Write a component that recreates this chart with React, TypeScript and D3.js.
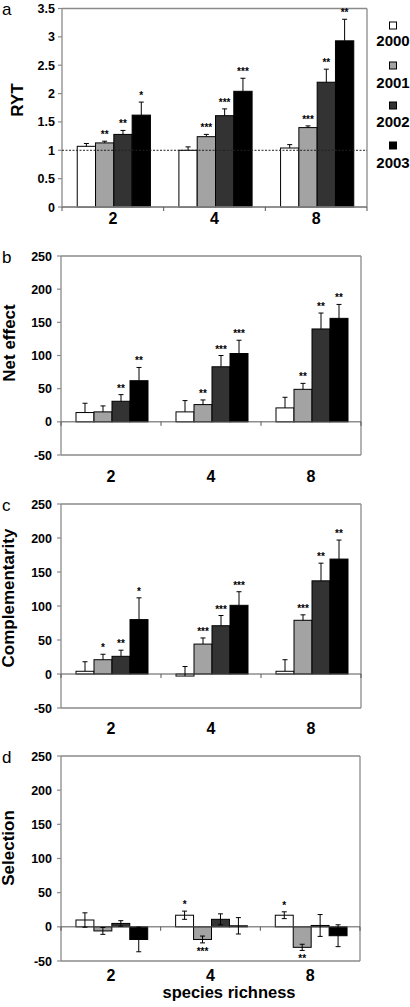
import React from "react";
import * as d3 from "d3";

const categories = ["2", "4", "8"];
const years = ["2000", "2001", "2002", "2003"];
const yearColors = ["#ffffff", "#a3a3a3", "#333333", "#000000"];

// Panel a: RYT
const rytValues = [
  [1.07, 1.13, 1.28, 1.62],
  [1.0, 1.24, 1.61, 2.04],
  [1.04, 1.4, 2.2, 2.93],
];
const rytErrors = [
  [0.05, 0.03, 0.07, 0.23],
  [0.06, 0.04, 0.12, 0.23],
  [0.06, 0.03, 0.23, 0.38],
];
const rytStars = [
  ["", "**", "**", "*"],
  ["", "***", "***", "***"],
  ["", "***", "**", "**"],
];
const rytTicks = [0, 0.5, 1, 1.5, 2, 2.5, 3, 3.5];

// Panel b: Net effect
const netValues = [
  [14, 15, 31, 62],
  [15, 26, 83, 103],
  [21, 49, 140, 156],
];
const netErrors = [
  [14, 9, 10, 20],
  [17, 7, 17, 20],
  [16, 9, 24, 21],
];
const netStars = [
  ["", "", "**", "**"],
  ["", "**", "***", "***"],
  ["", "**", "**", "**"],
];

// Panel c: Complementarity
const compValues = [
  [4, 21, 26, 80],
  [-3, 44, 71, 101],
  [4, 79, 137, 169],
];
const compErrors = [
  [14, 8, 9, 32],
  [14, 9, 15, 20],
  [17, 8, 26, 28],
];
const compStars = [
  ["", "*", "**", "*"],
  ["", "***", "***", "***"],
  ["", "***", "**", "**"],
];

// Panel d: Selection
const selValues = [
  [10, -6, 5, -18.5],
  [17, -18.5, 11, 1.5],
  [17, -30, 2, -13],
];
const selErrors = [
  [10.5, 5, 4, 18],
  [6, 5, 8, 12],
  [5, 4.5, 16, 16],
];
const selStars = [
  ["", "", "", ""],
  ["*", "***", "", ""],
  ["*", "**", "", ""],
];
const effectTicks = [-50, 0, 50, 100, 150, 200, 250];

const FONT = "'Liberation Sans', Arial, Helvetica, sans-serif";
const FRAME = "#8a8a8a";

type PanelSpec = {
  letter: string;
  letterY: number;
  title: string;
  titleX: number;
  titleY: number;
  values: number[][];
  errors: number[][];
  stars: string[][];
  ticks: number[];
  domain: [number, number];
  left: number;
  right: number;
  top: number;
  bottom: number;
  labelGap: number;
  catLabelY: number;
  bothErrors: boolean;
  refLine?: number;
};

const panels: PanelSpec[] = [
  {
    letter: "a", letterY: 15, title: "RYT", titleX: 23, titleY: 100,
    values: rytValues, errors: rytErrors, stars: rytStars, ticks: rytTicks,
    domain: [0, 3.5], left: 62, right: 367, top: 8.5, bottom: 207,
    labelGap: 7, catLabelY: 224, bothErrors: false, refLine: 1,
  },
  {
    letter: "b", letterY: 263, title: "Net effect", titleX: 15, titleY: 343,
    values: netValues, errors: netErrors, stars: netStars, ticks: effectTicks,
    domain: [-50, 250], left: 61, right: 361, top: 256, bottom: 455,
    labelGap: 9, catLabelY: 482, bothErrors: false,
  },
  {
    letter: "c", letterY: 511, title: "Complementarity", titleX: 14, titleY: 598,
    values: compValues, errors: compErrors, stars: compStars, ticks: effectTicks,
    domain: [-50, 250], left: 61, right: 361, top: 504, bottom: 708,
    labelGap: 9, catLabelY: 734, bothErrors: false,
  },
  {
    letter: "d", letterY: 763, title: "Selection", titleX: 14, titleY: 848,
    values: selValues, errors: selErrors, stars: selStars, ticks: effectTicks,
    domain: [-50, 250], left: 61, right: 360, top: 756, bottom: 961,
    labelGap: 9, catLabelY: 981, bothErrors: true,
  },
];

function Panel({ p }: { p: PanelSpec }) {
  const y = d3.scaleLinear().domain(p.domain).range([p.bottom, p.top]);
  const x0 = d3.scaleBand<string>().domain(categories).range([p.left, p.right]);
  const groupW = x0.bandwidth() * 0.72;
  const x1 = d3.scaleBand<string>().domain(years).range([0, groupW]);
  const offset = (x0.bandwidth() - groupW) / 2 + 1;
  const y0 = y(0);
  const bw = x1.bandwidth();

  return (
    <g>
      <text x={2} y={p.letterY} fontFamily={FONT} fontSize={17}>{p.letter}</text>
      <text
        transform={`translate(${p.titleX},${p.titleY}) rotate(-90)`}
        textAnchor="middle" fontFamily={FONT} fontWeight="bold" fontSize={17}
      >{p.title}</text>

      {/* frame */}
      <line x1={p.left} x2={p.right} y1={p.top} y2={p.top} stroke={FRAME} strokeWidth={1.3} />
      <line x1={p.right} x2={p.right} y1={p.top} y2={p.bottom} stroke={FRAME} strokeWidth={1.3} />
      <line x1={p.left} x2={p.right} y1={p.bottom} y2={p.bottom} stroke={FRAME} strokeWidth={1.3} />
      <line x1={p.left} x2={p.left} y1={p.top} y2={p.bottom} stroke={FRAME} strokeWidth={1.3} />

      {/* y ticks */}
      {p.ticks.map((t) => (
        <g key={t}>
          <line x1={p.left - 4} x2={p.left} y1={y(t)} y2={y(t)} stroke={FRAME} strokeWidth={1.2} />
          <text x={p.left - p.labelGap} y={y(t)} dy="0.36em" textAnchor="end"
            fontFamily={FONT} fontWeight="bold" fontSize={12.5}>{String(t)}</text>
        </g>
      ))}

      {/* bars */}
      {categories.map((c, ci) =>
        years.map((yr, yi) => {
          const v = p.values[ci][yi];
          const bx = (x0(c) as number) + offset + (x1(yr) as number);
          return (
            <rect key={c + yr} x={bx} y={Math.min(y(v), y0)} width={bw}
              height={Math.abs(y(v) - y0)} fill={yearColors[yi]} stroke="#000" strokeWidth={1} />
          );
        })
      )}

      {/* zero line */}
      <line x1={p.left} x2={p.right} y1={y0} y2={y0} stroke={p.domain[0] === 0 ? FRAME : "#555"} strokeWidth={p.domain[0] === 0 ? 1.3 : 1} />

      {/* category ticks */}
      {[...categories.map((c) => x0(c) as number), p.right].map((bx, i) => (
        <line key={i} x1={bx} x2={bx} y1={y0} y2={y0 + 4} stroke="#555" strokeWidth={1} />
      ))}

      {p.refLine !== undefined && (
        <line x1={p.left} x2={p.right} y1={y(p.refLine)} y2={y(p.refLine)} stroke="#222" strokeWidth={1} strokeDasharray="2,1.5" />
      )}

      {/* error bars and stars */}
      {categories.map((c, ci) =>
        years.map((yr, yi) => {
          const v = p.values[ci][yi];
          const e = p.errors[ci][yi];
          const cx = (x0(c) as number) + offset + (x1(yr) as number) + bw / 2;
          const top = y(v + e);
          const bot = p.bothErrors ? y(v - e) : y(v);
          const s = p.stars[ci][yi];
          const below = p.bothErrors && v < 0;
          return (
            <g key={"e" + c + yr}>
              <line x1={cx} x2={cx} y1={top} y2={bot} stroke="#000" strokeWidth={1} />
              <line x1={cx - 2.5} x2={cx + 2.5} y1={top} y2={top} stroke="#000" strokeWidth={1} />
              {p.bothErrors && (
                <line x1={cx - 2.5} x2={cx + 2.5} y1={bot} y2={bot} stroke="#000" strokeWidth={1} />
              )}
              {s && (
                <text x={cx} y={below ? bot + 12 : top - 3} textAnchor="middle"
                  fontFamily={FONT} fontWeight="bold" fontSize={10}>{s}</text>
              )}
            </g>
          );
        })
      )}

      {/* category labels */}
      {categories.map((c) => (
        <text key={"l" + c} x={(x0(c) as number) + x0.bandwidth() / 2} y={p.catLabelY}
          textAnchor="middle" fontFamily={FONT} fontWeight="bold" fontSize={16}>{c}</text>
      ))}
    </g>
  );
}

const legendSquareY = [22, 62, 102, 142];
const legendTextY = [46, 88, 127, 168];

export default function App() {
  return (
    <svg width={410} height={1007} style={{ position: "absolute", left: 0, top: 0, background: "#fff" }}>
      <rect x={0} y={0} width={410} height={1007} fill="#fff" />
      {panels.map((p) => (
        <Panel key={p.letter} p={p} />
      ))}
      {years.map((yr, i) => (
        <g key={yr}>
          <rect x={389.5} y={legendSquareY[i]} width={7} height={7} fill={yearColors[i]} stroke="#000" strokeWidth={1} />
          <text x={393} y={legendTextY[i]} textAnchor="middle" fontFamily={FONT} fontWeight="bold" fontSize={15}>{yr}</text>
        </g>
      ))}
      <text x={229} y={998} textAnchor="middle" fontFamily={FONT} fontWeight="bold" fontSize={16.5}>species richness</text>
    </svg>
  );
}
